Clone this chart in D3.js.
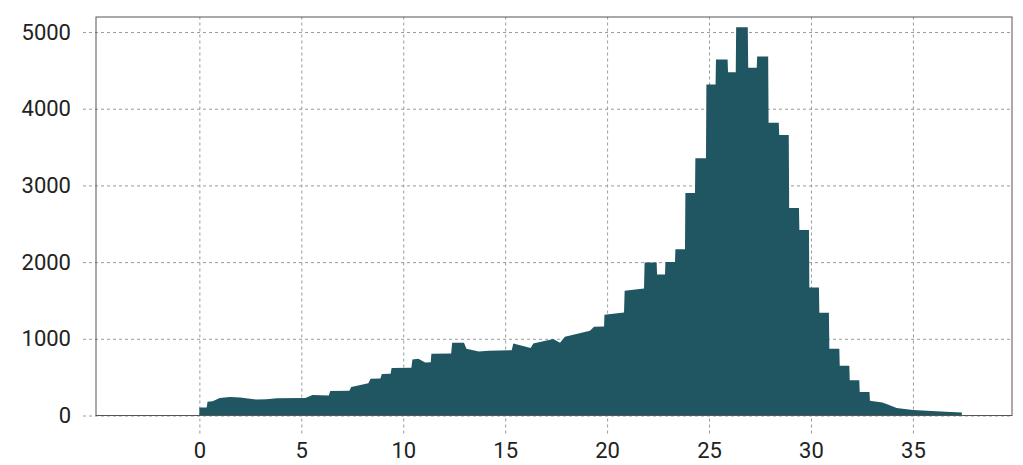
<!DOCTYPE html>
<html>
<head>
<meta charset="utf-8">
<script src="https://cdn.jsdelivr.net/npm/d3@7"></script>
<style>
  body { margin: 0; background: #fff; }
  svg { display: block; }
  .tick text { font-family: Roboto, "Open Sans", sans-serif; font-size: 22px; fill: #222; }
</style>
</head>
<body>
<div id="chart"></div>
<script>
// profile: x positions and counts (repeated x = step)
const xs = [
  0, 0.36, 0.4, 0.65, 1.0, 1.5, 2.0, 2.8, 3.3, 3.8, 5.2, 5.55, 6.35, 6.42, 7.36, 7.45,
  8.29, 8.4, 8.88, 8.95, 9.38, 9.43, 10.4, 10.45, 10.74, 11.08, 11.35, 11.38, 12.35, 12.4,
  12.98, 13.1, 13.7, 14.2, 15.32, 15.4, 16.25, 16.38, 17.36, 17.69, 17.93, 19.16, 19.36,
  19.85, 19.87, 20.83, 20.86, 21.81, 21.84, 22.43, 22.45, 22.84, 22.86, 23.33, 23.35,
  23.82, 23.84, 24.31, 24.33, 24.85, 24.87, 25.32, 25.34, 25.91, 25.93, 26.31, 26.33,
  26.9, 26.92, 27.34, 27.36, 27.9, 27.92, 28.42, 28.44, 28.91, 28.93, 29.41, 29.43,
  29.9, 29.92, 30.39, 30.41, 30.88, 30.9, 31.39, 31.41, 31.88, 31.9, 32.37, 32.39,
  32.87, 32.89, 33.5, 33.8, 34.2, 35.0, 36.6, 37.4, 37.4
];
const counts = [
  105, 105, 178, 185, 228, 242, 235, 208, 212, 226, 228, 268, 262, 319, 322, 372,
  420, 478, 482, 540, 545, 620, 622, 730, 740, 692, 695, 805, 808, 948,
  948, 870, 835, 845, 850, 938, 880, 940, 996, 950, 1026, 1104, 1156,
  1160, 1313, 1344, 1625, 1656, 1995, 1995, 1839, 1839, 2003, 2003, 2168,
  2168, 2901, 2901, 3353, 3353, 4316, 4316, 4642, 4642, 4477, 4477, 5063,
  5063, 4534, 4534, 4681, 4681, 3818, 3818, 3656, 3656, 2706, 2706, 2419,
  2419, 1669, 1669, 1339, 1339, 870, 870, 648, 648, 458, 458, 306,
  306, 193, 170, 140, 98, 72, 48, 40, 0
];
const xTicks = [0, 5, 10, 15, 20, 25, 30, 35];
const yTicks = [0, 1000, 2000, 3000, 4000, 5000];

const width = 1023, height = 465;
const margin = { top: 17, right: 11, bottom: 49.5, left: 96 };
const w = width - margin.left - margin.right;
const h = height - margin.top - margin.bottom;
const overhang = 13;

const data = xs.map((x, i) => ({ x, y: counts[i] }));

const x = d3.scaleLinear().domain([-5.07, 39.86]).range([0, w]);
const y = d3.scaleLinear().domain([0, 5196]).range([h, 0]);

const svg = d3.select("#chart").append("svg")
  .attr("width", width)
  .attr("height", height);

const g = svg.append("g").attr("transform", `translate(${margin.left},${margin.top})`);

// grid + tick labels
const xAxis = g.append("g")
  .attr("transform", `translate(0,${h + 18})`)
  .call(d3.axisBottom(x).tickValues(xTicks).tickSize(-(h + 18)).tickPadding(9).tickFormat(d3.format("d")))
xAxis.select(".domain").remove()

const yAxis = g.append("g")
  .attr("transform", `translate(${-overhang},0)`)
  .call(d3.axisLeft(y).tickValues(yTicks).tickSize(-(w + overhang)).tickPadding(12).tickFormat(d3.format("d")))
yAxis.select(".domain").remove()

svg.selectAll(".tick line")
  .attr("stroke", "#9a9a9a")
  .attr("stroke-dasharray", "3,3")

// filled profile
const area = d3.area()
  .x(d => x(d.x))
  .y0(y(0))
  .y1(d => y(d.y))

g.append("path")
  .datum(data)
  .attr("fill", "#1f5662")
  .attr("d", area)

// frame
g.append("rect")
  .attr("x", 0)
  .attr("y", 0)
  .attr("width", w)
  .attr("height", h)
  .attr("fill", "none")
  .attr("stroke", "#555")
  .attr("stroke-width", 1)
</script>
</body>
</html>
